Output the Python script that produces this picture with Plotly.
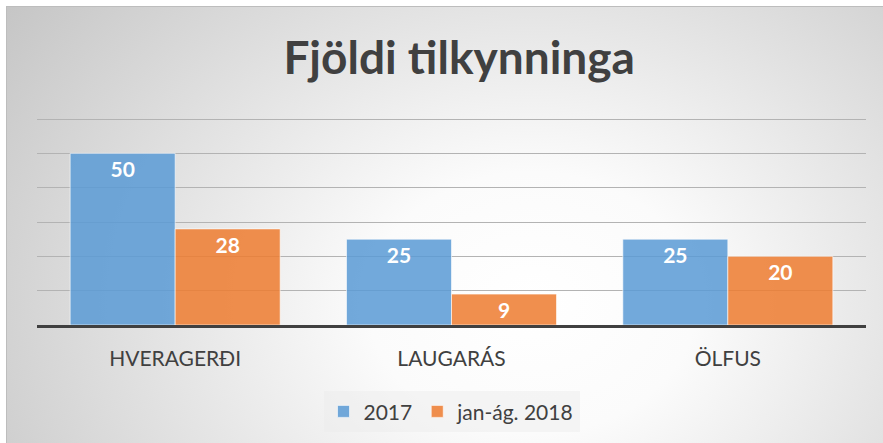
import base64
import plotly.graph_objects as go

categories = ["HVERAGERÐI", "LAUGARÁS", "ÖLFUS"]
series_names = ["2017", "jan-ág. 2018"]
values_2017 = [50, 25, 25]
values_2018 = [28, 9, 20]

W, H = 883, 443
L, R, T, B = 37, 17, 118, 118

# radial grey -> white background like the office chart style
svg = """<svg xmlns='http://www.w3.org/2000/svg' width='877' height='437'>
<defs><radialGradient id='g' cx='0.6' cy='0.68' r='0.75' gradientUnits='objectBoundingBox'
 gradientTransform='translate(0.6,0.68) scale(1,1.6) translate(-0.6,-0.68)'>
<stop offset='0' stop-color='#ffffff'/><stop offset='0.25' stop-color='#fbfbfb'/>
<stop offset='1' stop-color='#c4c4c4'/></radialGradient></defs>
<rect width='877' height='437' fill='url(#g)'/>
<line x1='0' y1='0.5' x2='877' y2='0.5' stroke='#bdbdbd' stroke-width='1'/>
<line x1='0.5' y1='0' x2='0.5' y2='437' stroke='#bdbdbd' stroke-width='1'/>
</svg>"""
bg_src = "data:image/svg+xml;base64," + base64.b64encode(svg.encode()).decode()

pw, ph = W - L - R, H - T - B

fig = go.Figure()
for name, vals, col in [(series_names[0], values_2017, "rgba(91,155,213,0.86)"),
                        (series_names[1], values_2018, "rgba(237,125,49,0.86)")]:
    fig.add_bar(x=categories, y=vals, name=name,
                marker=dict(color=col, line=dict(color="rgba(255,255,255,0.6)", width=1)),
                text=vals, textposition="inside", insidetextanchor="end",
                textangle=0, constraintext="none",
                textfont=dict(family="Lato", size=21, color="white", weight="bold"))

fig.update_layout(
    width=W, height=H,
    margin=dict(l=L, r=R, t=T, b=B, autoexpand=False),
    paper_bgcolor="white", plot_bgcolor="rgba(0,0,0,0)",
    barmode="group", bargap=0.24, bargroupgap=0,
    title=dict(text="<b>Fjöldi tilkynninga</b>", x=0.52, xanchor="center",
               y=1 - 58 / H, yanchor="middle",
               font=dict(family="Lato", size=46, color="#404040")),
    font=dict(family="Lato", color="#404040"),
    legend=dict(orientation="h", x=0.5, xanchor="center", y=-0.32, yanchor="top",
                bgcolor="rgba(235,235,235,0.45)", font=dict(size=21, color="#404040"),
                itemwidth=30, traceorder="normal"),
    showlegend=True,
    images=[dict(source=bg_src, xref="paper", yref="paper",
                 x=(6 - L) / pw, y=(H - B - 6) / ph,
                 sizex=(W - 6) / pw, sizey=(H - 6) / ph,
                 xanchor="left", yanchor="top", sizing="stretch", layer="below")],
)
fig.update_xaxes(showline=True, linecolor="#404040", linewidth=3,
                 tickfont=dict(size=21, color="#404040"), ticks="", showgrid=False,
                 ticklabelstandoff=13)
fig.update_yaxes(range=[0, 60.3], dtick=10, showticklabels=False, showgrid=True,
                 gridcolor="#b3b3b3", gridwidth=1, zeroline=False)

fig.write_html("out.html", config={"displayModeBar": False},
               post_script="document.body.style.margin='0px';")
